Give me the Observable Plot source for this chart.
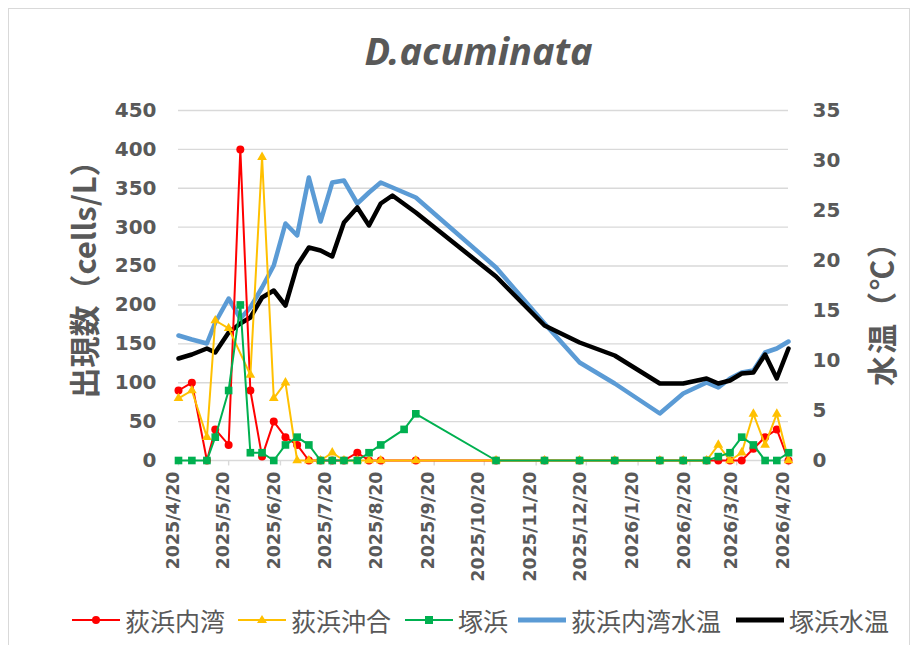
<!DOCTYPE html>
<html>
<head>
<meta charset="utf-8">
<script src="https://cdn.jsdelivr.net/npm/d3@7"></script>
<script src="https://cdn.jsdelivr.net/npm/@observablehq/plot@0.6"></script>
<style>
  body { margin: 0; background: #fff; }
  #wrap { position: relative; width: 917px; height: 645px; overflow: hidden; background: #fff; }
  #border { position: absolute; left: 8px; top: 8px; width: 902px; height: 700px; border: 1px solid #d9d9d9; box-sizing: border-box; }
  #title { position: absolute; left: 20px; top: 30px; width: 917px; text-align: center; line-height: 40px;
           font-family: "Noto Sans", sans-serif; font-style: italic; font-weight: bold; font-size: 38px; color: #595959; }
  #chart { position: absolute; left: 0; top: 90px; }
  .ytitle { position: absolute; white-space: nowrap; transform: translate(-50%, -50%) rotate(-90deg);
            font-family: "Noto Sans CJK JP", sans-serif; font-weight: bold; color: #595959; }
  .leg { position: absolute; top: 604px; height: 32px; display: flex; align-items: center; white-space: nowrap;
         font-family: "Noto Sans CJK JP", sans-serif; font-size: 25px; color: #595959; }
  .leg svg { margin-right: 5px; }
</style>
</head>
<body>
<div id="wrap">
  <div id="border"></div>
  <div id="title">D.acuminata</div>
  <div id="chart"></div>
  <div class="ytitle" id="ylabL" style="left:82px; top:272px; font-size:31px;">出現数（cells/L）</div>
  <div class="ytitle" id="ylabR" style="left:880px; top:306px; font-size:30px; letter-spacing:2px;">水温（℃）</div>
</div>
<script>
// ---- data ----
const dateTickLabels = ["2025/4/20","2025/5/20","2025/6/20","2025/7/20","2025/8/20","2025/9/20","2025/10/20","2025/11/20","2025/12/20","2026/1/20","2026/2/20","2026/3/20","2026/4/20"];
const countTicks = [0, 50, 100, 150, 200, 250, 300, 350, 400, 450];
const tempTicks = [0, 5, 10, 15, 20, 25, 30, 35];

const countDates = ["2025-04-20","2025-04-28","2025-05-07","2025-05-12","2025-05-20","2025-05-27","2025-06-02","2025-06-09","2025-06-16","2025-06-23","2025-06-30","2025-07-07","2025-07-14","2025-07-21","2025-07-28","2025-08-05","2025-08-12","2025-08-19","2025-09-02","2025-09-09","2025-10-27","2025-11-25","2025-12-16","2026-01-06","2026-02-02","2026-02-16","2026-03-02","2026-03-09","2026-03-16","2026-03-23","2026-03-30","2026-04-06","2026-04-13","2026-04-20"];
const hagiInner = [90,100,0,40,20,400,90,5,50,30,20,0,0,0,0,10,0,0,null,0,0,0,0,0,0,0,0,0,0,0,15,30,40,0];
const hagiOffshore = [80,90,30,180,170,null,110,390,80,100,0,0,0,10,0,0,0,0,null,0,0,0,0,0,0,0,0,20,0,10,60,20,60,0];
const tsukahama = [0,0,0,30,90,200,10,10,0,20,30,20,0,0,0,0,10,20,40,60,0,0,0,0,0,0,0,5,10,30,20,0,0,10];

const tempDates = ["2025-04-20","2025-04-28","2025-05-07","2025-05-12","2025-05-20","2025-05-27","2025-06-02","2025-06-09","2025-06-16","2025-06-23","2025-06-30","2025-07-07","2025-07-14","2025-07-21","2025-07-28","2025-08-05","2025-08-12","2025-08-19","2025-08-26","2025-09-09","2025-10-27","2025-11-25","2025-12-16","2026-01-06","2026-02-02","2026-02-16","2026-03-02","2026-03-09","2026-03-16","2026-03-23","2026-03-30","2026-04-06","2026-04-13","2026-04-20"];
const hagiInnerTemp = [12.5,12.1,11.7,13.8,16.2,14.2,15.3,17.3,19.5,23.7,22.5,28.3,23.9,27.8,28.0,25.7,26.8,27.8,27.3,26.3,19.3,13.7,9.8,7.7,4.7,6.7,7.8,7.3,8.2,8.8,9.0,10.8,11.2,11.9];
const tsukahamaTemp = [10.2,10.6,11.2,10.8,12.8,13.7,14.3,16.3,17.0,15.5,19.5,21.3,21.0,20.4,23.8,25.3,23.5,25.7,26.5,24.8,18.4,13.5,11.8,10.5,7.7,7.7,8.2,7.7,8.0,8.7,8.8,10.6,8.2,11.2];

const seriesNames = ["荻浜内湾","荻浜沖合","塚浜","荻浜内湾水温","塚浜水温"];
const seriesColors = ["#FF0000","#FFC000","#00B050","#5B9BD5","#000000"];

// ---- build ----
const parse = s => { const [y, m, d] = s.split(/[-\/]/).map(Number); return new Date(Date.UTC(y, m - 1, d)); };
const K = 450 / 35; // temperature -> count axis
const dateTicks = dateTickLabels.map(parse);
const rows = (dates, vals) => dates.map((d, i) => ({date: parse(d), v: vals[i]})).filter(r => r.v != null);

const red = rows(countDates, hagiInner);
const yel = rows(countDates, hagiOffshore);
const grn = rows(countDates, tsukahama);
const blu = rows(tempDates, hagiInnerTemp);
const blk = rows(tempDates, tsukahamaTemp);

const grid = "#d9d9d9";
const txt = "#595959";

const chart = Plot.plot({
  width: 917,
  height: 510,
  marginLeft: 178,
  marginRight: 129,
  marginTop: 20,
  marginBottom: 140,
  style: {fontFamily: "DejaVu Sans, sans-serif", fontSize: "20px", fontWeight: "bold", color: txt, background: "transparent", overflow: "visible"},
  x: {type: "utc", domain: [dateTicks[0], dateTicks[dateTicks.length - 1]], axis: null},
  y: {domain: [0, 450], label: null},
  marks: [
    Plot.ruleY(countTicks, {y: d => d, stroke: grid, strokeWidth: 1.4}),
    Plot.ruleX(dateTicks, {x: d => d, y1: 0, y2: -7, stroke: grid, strokeWidth: 1.4}),
    Plot.axisY({anchor: "left", ticks: countTicks, tickSize: 0, tickPadding: 22, label: null, fill: txt}),
    Plot.axisY({anchor: "right", ticks: tempTicks.map(t => t * K), tickFormat: v => String(Math.round(v / K)), tickSize: 0, tickPadding: 24, label: null, fill: txt}),
    Plot.text(dateTicks, {x: d => d, text: dateTickLabels, frameAnchor: "bottom", rotate: -90, textAnchor: "end", dy: 11, fontSize: 17.5, fill: txt}),
    Plot.line(blu, {x: "date", y: d => d.v * K, stroke: seriesColors[3], strokeWidth: 4.5}),
    Plot.line(blk, {x: "date", y: d => d.v * K, stroke: seriesColors[4], strokeWidth: 4.5}),
    Plot.line(red, {x: "date", y: "v", stroke: seriesColors[0], strokeWidth: 2}),
    Plot.dot(red, {x: "date", y: "v", symbol: "circle", r: 4, fill: seriesColors[0]}),
    Plot.line(yel, {x: "date", y: "v", stroke: seriesColors[1], strokeWidth: 2}),
    Plot.dot(yel, {x: "date", y: "v", symbol: "triangle", r: 3.6, fill: seriesColors[1]}),
    Plot.line(grn, {x: "date", y: "v", stroke: seriesColors[2], strokeWidth: 2}),
    Plot.dot(grn, {x: "date", y: "v", symbol: "square", r: 4.3, fill: seriesColors[2]})
  ]
});
document.getElementById("chart").appendChild(chart);

// ---- legend ----
const legX = [72, 238, 405, 518, 736];
const wrap = document.getElementById("wrap");
seriesNames.forEach((name, i) => {
  const div = document.createElement("div");
  div.className = "leg";
  div.style.left = legX[i] + "px";
  const c = seriesColors[i];
  let marker = "";
  if (i === 0) marker = `<circle cx="24" cy="10" r="4" fill="${c}"/>`;
  if (i === 1) marker = `<path d="M24,5 L29,13 L19,13 Z" fill="${c}"/>`;
  if (i === 2) marker = `<rect x="20" y="6" width="8" height="8" fill="${c}"/>`;
  const sw = i < 3 ? 2 : 5;
  div.innerHTML = `<svg width="48" height="20"><line x1="0" x2="48" y1="10" y2="10" stroke="${c}" stroke-width="${sw}" stroke-linecap="${i < 3 ? "butt" : "round"}"/>${marker}</svg><span>${name}</span>`;
  wrap.appendChild(div);
});
</script>
</body>
</html>
